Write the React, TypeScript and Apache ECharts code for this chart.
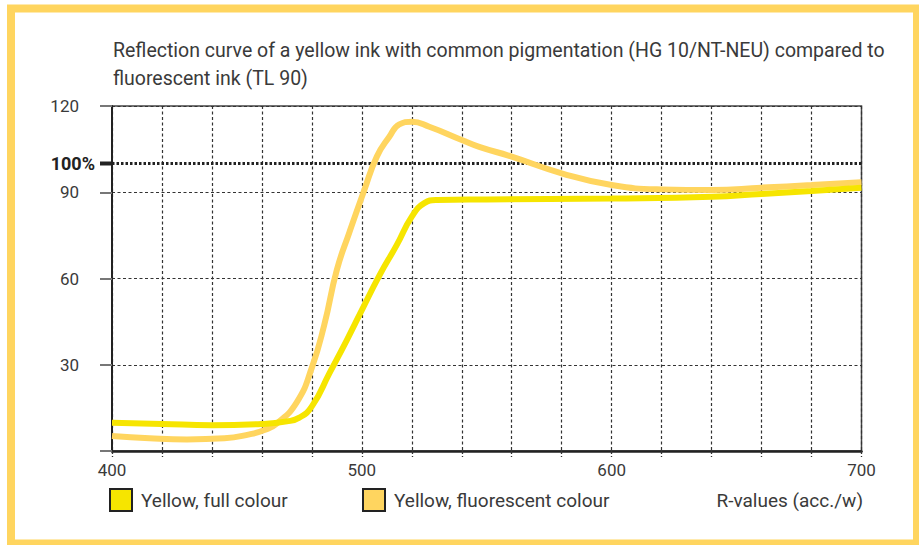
import React, { useEffect, useRef } from 'react';
import * as echarts from 'echarts';

const FONT = 'Roboto, "Liberation Sans", sans-serif';
const TEXT = '#3a3a3a';

const titleText = 'Reflection curve of a yellow ink with common pigmentation (HG 10/NT-NEU) compared to\nfluorescent ink (TL 90)';
const seriesNames = ['Yellow, full colour', 'Yellow, fluorescent colour'];
const xAxisName = 'R-values (acc./w)';
const xLabels = [400, 500, 600, 700];
const yLabels = [30, 60, 90, 120];
const referenceLevel = 100;

const fullWave = [400, 420, 440, 460, 470, 475, 480, 487, 494, 500, 507, 514, 520, 525, 530, 550, 600, 640, 660, 680, 700];
const fullValue = [9.8, 9.4, 9.0, 9.4, 10.3, 11.6, 15.5, 27, 38.6, 49, 61, 71.7, 81.5, 86.2, 87.3, 87.5, 87.8, 88.4, 89.4, 90.4, 91.6];

const fluoWave = [400, 415, 430, 445, 455, 461, 466, 474, 480, 485, 490, 495, 501, 506, 511, 515, 520, 527, 540, 547, 560, 580, 600, 620, 640, 660, 680, 700];
const fluoValue = [5.2, 4.4, 4.0, 4.4, 5.8, 7.3, 9.6, 17, 29, 44, 63, 76, 90.8, 102.4, 109.3, 113.6, 114.5, 112.8, 108.2, 105.8, 102.4, 96.6, 92.5, 91.0, 90.8, 91.6, 92.5, 93.5];

const FULL_COLOR = '#F6E500';
const FLUO_COLOR = '#FFD55F';

export default function App() {
  const ref = useRef<HTMLDivElement>(null);
  useEffect(() => {
    if (!ref.current) return;
    const chart = echarts.init(ref.current, undefined, { renderer: 'svg' });
    const fullData = fullWave.map((w, i) => [w, fullValue[i]]);
    const fluoData = fluoWave.map((w, i) => [w, fluoValue[i]]);
    const legendCommon = {
      top: 488,
      padding: 0,
      icon: 'rect',
      itemWidth: 22,
      itemHeight: 22,
      itemStyle: { borderColor: '#222', borderWidth: 2 },
      textStyle: { fontFamily: FONT, fontSize: 19, color: TEXT, padding: [0, 0, 0, 4] },
    };
    const option: any = {
      animation: false,
      backgroundColor: '#ffffff',
      textStyle: { fontFamily: FONT },
      title: [
        {
          text: titleText,
          left: 113,
          top: 36,
          padding: 0,
          textStyle: { fontFamily: FONT, fontSize: 19.5, lineHeight: 28, fontWeight: 'normal', color: TEXT },
        },
        {
          text: xAxisName,
          right: 56,
          top: 489,
          padding: 0,
          textStyle: { fontFamily: FONT, fontSize: 19, lineHeight: 22, fontWeight: 'normal', color: TEXT },
        },
      ],
      legend: [
        { ...legendCommon, data: [seriesNames[0]], left: 109 },
        { ...legendCommon, data: [seriesNames[1]], left: 362 },
      ],
      grid: {
        left: 112,
        right: 57.5,
        top: 106,
        bottom: 94,
        show: true,
        borderColor: '#444',
        borderWidth: 1.5,
        backgroundColor: 'transparent',
      },
      xAxis: {
        type: 'value',
        min: 400,
        max: 700,
        interval: 20,
        axisLine: { show: true, lineStyle: { color: '#222', width: 2.5 } },
        axisTick: { show: true, length: 6, lineStyle: { color: '#333', width: 1.3, type: [3, 2] } },
        axisLabel: {
          margin: 10,
          fontFamily: FONT,
          fontSize: 17,
          color: TEXT,
          showMinLabel: true,
          showMaxLabel: true,
          formatter: (v: number) => (xLabels.indexOf(v) >= 0 ? String(v) : ''),
        },
        splitLine: { show: true, lineStyle: { color: '#333', width: 1.2, type: [3, 2.5] } },
      },
      yAxis: {
        type: 'value',
        min: 0,
        max: 120,
        interval: 30,
        axisLine: { show: true, lineStyle: { color: '#222', width: 2 } },
        axisTick: { show: true, length: 12, lineStyle: { color: '#777', width: 2 } },
        axisLabel: {
          margin: 33,
          fontFamily: FONT,
          fontSize: 17,
          color: TEXT,
          formatter: (v: number) => (yLabels.indexOf(v) >= 0 ? String(v) : ''),
        },
        splitLine: { show: true, lineStyle: { color: '#333', width: 1.2, type: [3, 2.5] } },
      },
      series: [
        {
          name: seriesNames[1],
          type: 'line',
          data: fluoData,
          smooth: 0.5,
          symbol: 'none',
          itemStyle: { color: FLUO_COLOR },
          lineStyle: { color: FLUO_COLOR, width: 6 },
          z: 3,
          markLine: {
            silent: true,
            symbol: 'none',
            data: [{ yAxis: referenceLevel }],
            lineStyle: { color: '#222', width: 3, type: [2.5, 2] },
            label: {
              show: true,
              position: 'start',
              distance: 17,
              formatter: referenceLevel + '%',
              fontFamily: FONT,
              fontSize: 18,
              fontWeight: 'bold',
              color: '#222',
            },
            z: 2,
          },
        },
        {
          name: seriesNames[0],
          type: 'line',
          data: fullData,
          smooth: 0.5,
          symbol: 'none',
          itemStyle: { color: FULL_COLOR },
          lineStyle: { color: FULL_COLOR, width: 6 },
          z: 4,
        },
      ],
    };
    chart.setOption(option);
    const p = chart.convertToPixel({ gridIndex: 0 }, [400, referenceLevel]) as number[];
    chart.setOption({
      graphic: [
        {
          id: 'frame',
          type: 'rect',
          shape: { x: 11, y: 8.5, width: 906, height: 535 },
          style: { fill: 'none', stroke: '#FFD55F', lineWidth: 8 },
          silent: true,
          z: 0,
        },
        {
          id: 'refTick',
          type: 'line',
          shape: { x1: p[0] - 12, y1: p[1], x2: p[0], y2: p[1] },
          style: { stroke: '#222', lineWidth: 4 },
          silent: true,
          z: 10,
        },
      ],
    });
    return () => chart.dispose();
  }, []);
  return <div ref={ref} style={{ position: 'fixed', left: 0, top: 0, width: 919, height: 545 }} />;
}
